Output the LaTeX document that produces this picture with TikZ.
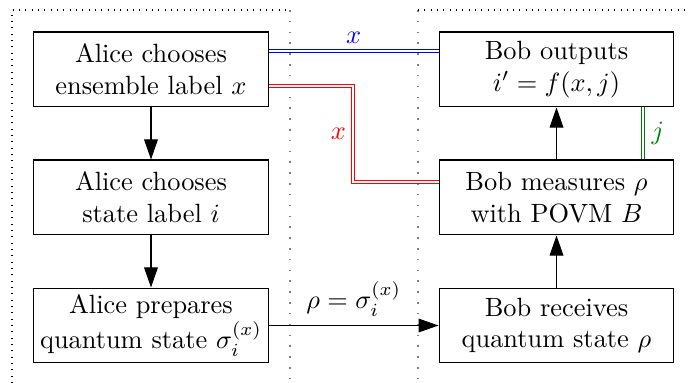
\documentclass[tikz,border=0pt]{standalone}
\usetikzlibrary{arrows.meta,calc}
\begin{document}
\begin{tikzpicture}[x=0.379pt,y=-0.379pt,
  stepbox/.style={draw,thin,align=center,minimum width=89pt,minimum height=28.4pt,inner sep=0pt},
  flow/.style={thin,-{Triangle[length=7.6pt,width=5.2pt]}},
  classical/.style={thin,double=white,double distance=0.8pt},
  border/.style={dotted,thin},
  divider/.style={gray,line width=0.6pt,dash pattern=on 0.6pt off 3.5pt}]
\useasboundingbox (0,0) rectangle (689,383);
% region borders
\draw[border] (12,383) -- (12,10) -- (290,10);
\draw[divider] (290,10) -- (290,383);
\draw[divider] (418,10) -- (418,383);
\draw[border] (418,10) -- (689,10);
% nodes
\node[stepbox] (a1) at (151,69.5) {Alice chooses\\ensemble label $x$};
\node[stepbox] (a2) at (151,197.5) {Alice chooses\\state label $i$};
\node[stepbox] (a3) at (151,325.5) {Alice prepares\\quantum state $\sigma_i^{(x)}$};
\node[stepbox] (b1) at (556.5,69.5) {Bob outputs\\$i'=f(x,j)$};
\node[stepbox] (b2) at (556.5,197.5) {Bob measures $\rho$\\with POVM $B$};
\node[stepbox] (b3) at (556.5,325.5) {Bob receives\\quantum state $\rho$};
% flow arrows
\draw[flow] (a1) -- (a2);
\draw[flow] (a2) -- (a3);
\draw[flow] (a3) -- node[above] {$\rho=\sigma_i^{(x)}$} (b3);
\draw[flow] (b3) -- (b2);
\draw[flow] (b2) -- (b1);
% classical channels
\draw[classical,blue] ([yshift=7pt]a1.east) -- node[above,inner sep=2.5pt] {$x$} ([yshift=7pt]b1.west);
\coordinate (rb) at (353,134);
\draw[classical,red] ([yshift=-6.25pt]a1.east) -| (rb) |- ([yshift=5.9pt]b2.west);
\node[red,left,inner sep=2.5pt] (rx) at (rb) {$x$};
\draw[classical,green!50!black] ([xshift=32.8pt]b2.north) -- node[right,inner sep=3pt] {$j$} ([xshift=32.8pt]b1.south);
\end{tikzpicture}
\end{document}
